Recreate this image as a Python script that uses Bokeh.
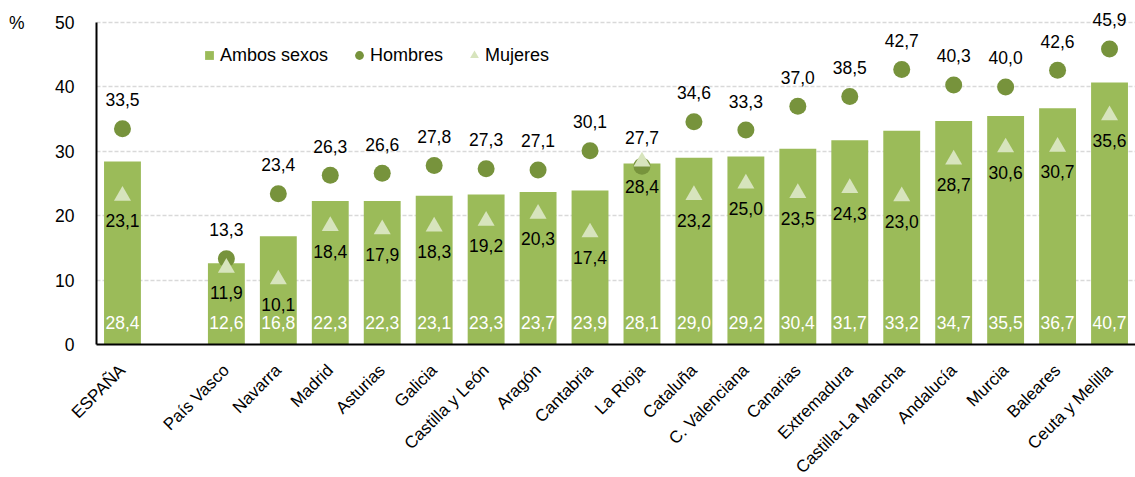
import math
from bokeh.plotting import figure
from bokeh.models import (FactorRange, Range1d, ColumnDataSource, Legend, LegendItem,
                          LinearAxis, FixedTicker)
from bokeh.embed import file_html
from bokeh.resources import INLINE
from bokeh.core.properties import value

# ---------------- data ----------------
categories = ["ESPAÑA", "País Vasco", "Navarra", "Madrid", "Asturias", "Galicia",
              "Castilla y León", "Aragón", "Cantabria", "La Rioja", "Cataluña",
              "C. Valenciana", "Canarias", "Extremadura", "Castilla-La Mancha",
              "Andalucía", "Murcia", "Baleares", "Ceuta y Melilla"]
ambos = [28.4, 12.6, 16.8, 22.3, 22.3, 23.1, 23.3, 23.7, 23.9, 28.1, 29.0, 29.2,
         30.4, 31.7, 33.2, 34.7, 35.5, 36.7, 40.7]
hombres = [33.5, 13.3, 23.4, 26.3, 26.6, 27.8, 27.3, 27.1, 30.1, 27.7, 34.6, 33.3,
           37.0, 38.5, 42.7, 40.3, 40.0, 42.6, 45.9]
mujeres = [23.1, 11.9, 10.1, 18.4, 17.9, 18.3, 19.2, 20.3, 17.4, 28.4, 23.2, 25.0,
           23.5, 24.3, 23.0, 28.7, 30.6, 30.7, 35.6]
y_ticks = [0, 10, 20, 30, 40, 50]
unit_label = "%"
series_names = ["Ambos sexos", "Hombres", "Mujeres"]

# ---------------- styles ----------------
BAR = "#9BBB59"
DOT = "#77933C"
TRI = "#D7E4BD"
FONT = "Liberation Sans"


def fmt(v):
    return f"{v:.1f}".replace(".", ",")


factors = [categories[0], " "] + categories[1:]

src = ColumnDataSource(dict(
    cat=categories,
    ambos=ambos, hombres=hombres, mujeres=mujeres,
    la=[fmt(v) for v in ambos],
    lh=[fmt(v) for v in hombres],
    lm=[fmt(v) for v in mujeres],
))

# the frame reaches a bit above 50 so that the top data label is not clipped
p = figure(x_range=FactorRange(factors=factors, range_padding=0),
           y_range=Range1d(0, 52.8),
           frame_width=1039, frame_height=340,
           min_border_left=96, min_border_right=0, min_border_top=4, min_border_bottom=0,
           output_backend="svg", toolbar_location=None)
p.outline_line_color = None
p.background_fill_color = "white"
p.border_fill_color = "white"

# grid
p.xgrid.grid_line_color = None
p.ygrid.grid_line_color = "#D9D9D9"
p.ygrid.grid_line_dash = "4 2"
p.ygrid.grid_line_width = 1.5
p.ygrid.ticker = FixedTicker(ticks=y_ticks)

# axes
p.yaxis.ticker = FixedTicker(ticks=y_ticks)
p.yaxis.bounds = (0, 50)
p.yaxis.axis_line_color = "black"
p.yaxis.axis_line_width = 2
p.yaxis.major_tick_line_color = None
p.yaxis.minor_tick_line_color = None
p.yaxis.major_tick_out = 0
p.yaxis.minor_tick_out = 0
p.yaxis.major_label_standoff = 22
p.yaxis.major_label_text_font = FONT
p.yaxis.major_label_text_font_size = "17.5px"
p.yaxis.major_label_text_color = "black"

# outer left axis carrying only the unit sign "%" at the level of 50
pct_axis = LinearAxis(ticker=FixedTicker(ticks=[50]),
                      major_label_overrides={50: unit_label},
                      axis_line_color=None, major_tick_line_color=None,
                      minor_tick_line_color=None, major_tick_out=0, minor_tick_out=0,
                      major_label_standoff=28, major_label_text_font=FONT,
                      major_label_text_font_size="17.5px", major_label_text_color="black")
p.add_layout(pct_axis, "left")

p.xaxis.axis_line_color = "black"
p.xaxis.axis_line_width = 2
p.xaxis.major_tick_line_color = None
p.xaxis.minor_tick_line_color = None
p.xaxis.major_label_orientation = math.pi / 4
p.xaxis.major_label_standoff = 17
p.xaxis.major_label_text_font = FONT
p.xaxis.major_label_text_font_size = "17px"
p.xaxis.major_label_text_color = "black"

# bars
bars = p.vbar(x="cat", top="ambos", width=0.71, source=src, fill_color=BAR, line_color=None)
# markers
dots = p.scatter(x="cat", y="hombres", source=src, marker="circle", size=17,
                 fill_color=DOT, line_color=None)
tris = p.scatter(x="cat", y="mujeres", source=src, marker="triangle", size=17,
                 fill_color=TRI, line_color=None)

# labels
p.text(x="cat", y=0, text="la", source=src, text_color="white", text_align="center",
       text_baseline="middle", y_offset=-22, text_font=value(FONT), text_font_size="17.5px")
p.text(x="cat", y="hombres", text="lh", source=src, text_color="black", text_align="center",
       text_baseline="middle", y_offset=-29, text_font=value(FONT), text_font_size="17.5px")
p.text(x="cat", y="mujeres", text="lm", source=src, text_color="black", text_align="center",
       text_baseline="middle", y_offset=25, text_font=value(FONT), text_font_size="17.5px")

# legend (proxy square so that all legend glyphs are small)
proxy_sq = p.scatter(x=[categories[0]], y=[float("nan")], marker="square",
                     fill_color=BAR, line_color=None)
legend = Legend(items=[
    LegendItem(label=series_names[0], renderers=[proxy_sq]),
    LegendItem(label=series_names[1], renderers=[dots]),
    LegendItem(label=series_names[2], renderers=[tris]),
], orientation="horizontal", location=(102, 278), glyph_width=22, glyph_height=22,
    label_standoff=0, spacing=20, padding=0, margin=0,
    border_line_color=None, background_fill_alpha=0,
    label_text_font=FONT, label_text_font_size="18px", label_text_color="black")
p.add_layout(legend, "center")

open("out.html", "w").write(file_html(p, INLINE))
